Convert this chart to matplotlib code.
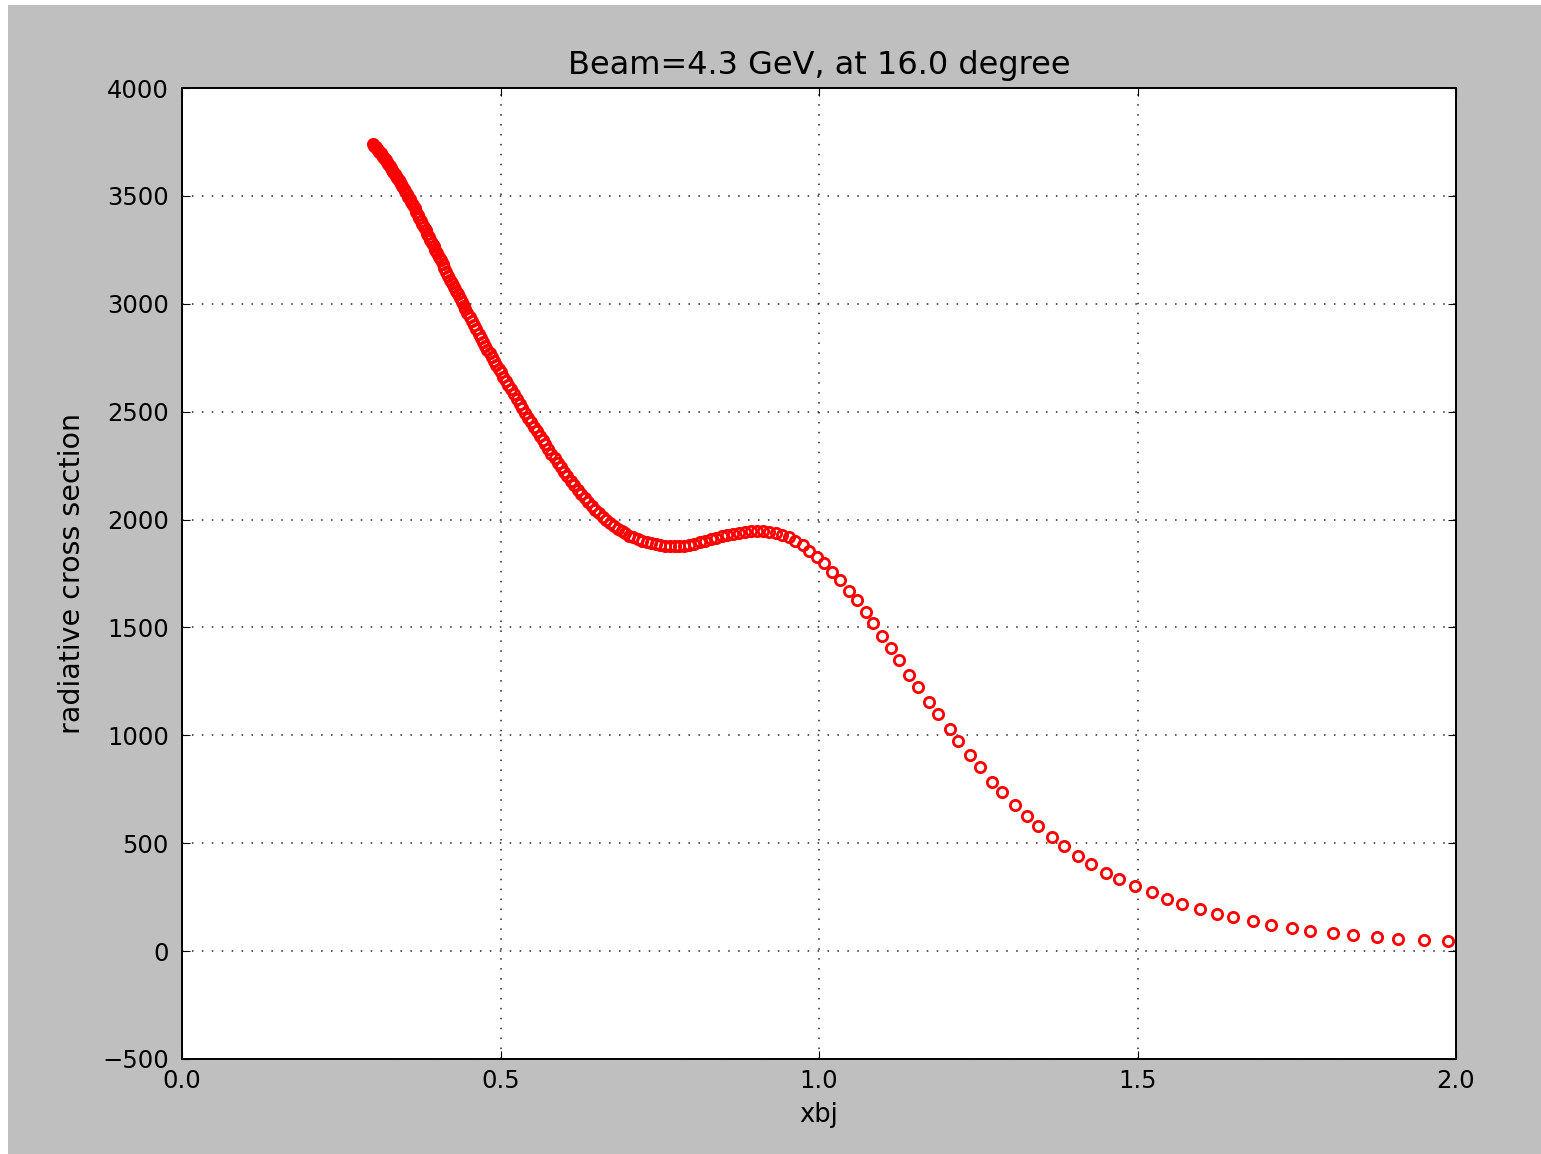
import matplotlib
matplotlib.use("Agg")
import matplotlib.pyplot as plt
from matplotlib.patches import Rectangle

BEAM = 4.3
ANGLE = 16.0

# radiative cross section vs Bjorken x (dense at low x, sparse at high x)
xbj = [
    0.300, 0.302, 0.304, 0.306, 0.308, 0.310, 0.312, 0.314, 0.316, 0.318,
    0.320, 0.322, 0.324, 0.326, 0.328, 0.330, 0.332, 0.334, 0.336, 0.338,
    0.340, 0.342, 0.344, 0.346, 0.348, 0.350,
    0.3525, 0.355, 0.3575, 0.360, 0.3625, 0.365, 0.3675, 0.370, 0.3725, 0.375,
    0.3775, 0.380, 0.3825, 0.385, 0.3875, 0.390, 0.3925, 0.395, 0.3975, 0.400,
    0.403, 0.406, 0.409, 0.412, 0.415, 0.418, 0.421, 0.424, 0.427, 0.430,
    0.433, 0.436, 0.439, 0.442, 0.445, 0.448,
    0.4515, 0.455, 0.4585, 0.462, 0.4655, 0.469, 0.4725, 0.476, 0.4795, 0.483,
    0.4865, 0.490, 0.4935, 0.497, 0.5005,
    0.5045, 0.5085, 0.5125, 0.5165, 0.521, 0.5255, 0.530, 0.5345, 0.539, 0.5435,
    0.548, 0.5525, 0.557, 0.5615, 0.566, 0.5705, 0.575, 0.580, 0.585, 0.590,
    0.595, 0.600,
    0.605, 0.6105, 0.616, 0.6215, 0.627, 0.6325, 0.638, 0.6435, 0.649, 0.6548,
    0.6605, 0.6663, 0.672, 0.678, 0.684, 0.690, 0.696, 0.702,
    0.7087, 0.7155, 0.7225, 0.7295, 0.7365, 0.7437, 0.751, 0.7585, 0.766, 0.7735,
    0.781, 0.7888, 0.7966, 0.8045,
    0.8128, 0.8213, 0.8298, 0.8385, 0.8473, 0.8562, 0.8652, 0.8744, 0.8837, 0.8931,
    0.9026, 0.9123, 0.9221, 0.932, 0.942, 0.9522, 0.9625,
    0.9744, 0.9848, 0.9964, 1.0083, 1.0209, 1.0330, 1.0466, 1.0592, 1.0733, 1.0853,
    1.0989, 1.1126, 1.1256, 1.1413, 1.1549, 1.1722, 1.1863, 1.2057, 1.2187, 1.2370,
    1.2527, 1.2711, 1.2878, 1.3077, 1.3261, 1.3438, 1.3653, 1.3841, 1.4061, 1.4270,
    1.4501, 1.4714, 1.4966, 1.5223, 1.5468, 1.5703, 1.5986, 1.6243, 1.6500, 1.6813,
    1.7091, 1.7421, 1.7713, 1.8064, 1.8383, 1.8760, 1.9094, 1.9502, 1.9870,
]
sigma = [
    3740, 3733, 3726, 3719, 3712, 3705, 3697, 3689, 3681, 3673,
    3665, 3656, 3648, 3639, 3631, 3622, 3613, 3603, 3594, 3584,
    3575, 3565, 3555, 3544, 3534, 3524,
    3511, 3497, 3484, 3470, 3456, 3442, 3427, 3413, 3399, 3384,
    3370, 3355, 3340, 3325, 3310, 3295, 3280, 3266, 3251, 3236,
    3218, 3201, 3183, 3165, 3147, 3130, 3112, 3095, 3077, 3060,
    3043, 3026, 3009, 2992, 2975, 2958,
    2939, 2919, 2900, 2881, 2862, 2843, 2825, 2806, 2788, 2770,
    2752, 2734, 2717, 2699, 2682,
    2662, 2642, 2622, 2603, 2580, 2559, 2537, 2515, 2493, 2472,
    2451, 2430, 2409, 2388, 2368, 2348, 2328, 2306, 2284, 2263,
    2242, 2221,
    2201, 2179, 2158, 2138, 2118, 2099, 2080, 2062, 2045, 2029,
    2013, 1998, 1984, 1971, 1958, 1946, 1936, 1926,
    1917, 1909, 1902, 1895, 1890, 1886, 1882, 1879, 1877, 1876,
    1877, 1879, 1883, 1888,
    1894, 1901, 1908, 1915, 1922, 1928, 1934, 1939, 1943, 1947,
    1948, 1948, 1944, 1938, 1930, 1917, 1902,
    1884, 1856, 1825, 1797, 1757, 1718, 1671, 1627, 1570, 1520,
    1459, 1404, 1347, 1281, 1224, 1154, 1098, 1029, 972, 907,
    851, 786, 737, 678, 628, 581, 531, 489, 442, 406,
    364, 332, 302, 272, 242, 219, 194, 172, 157, 138,
    123, 107, 95, 84, 75, 66, 58, 52, 45,
]

xticks = [0.0, 0.5, 1.0, 1.5, 2.0]
yticks = list(range(-500, 4001, 500))

plt.rcParams['font.family'] = 'DejaVu Sans'

W, H = 1541, 1154
fig = plt.figure(figsize=(W / 100, H / 100), dpi=100, facecolor='white')
# grey canvas behind the axes
fig.patches.append(Rectangle((8 / W, 0), 1 - 8 / W, 1 - 5 / H,
                             transform=fig.transFigure, facecolor='#bfbfbf',
                             edgecolor='none', zorder=-10))

ax = fig.add_axes([182 / W, 1 - 1059 / H, 1274 / W, 971 / H])
ax.set_facecolor('white')

ax.plot(xbj, sigma, linestyle='none', marker='o', markersize=7.4,
        markerfacecolor='none', markeredgecolor='red', markeredgewidth=2.0,
        clip_on=False)

ax.set_xlim(0.0, 2.0)
ax.set_ylim(-500, 4000)
ax.set_xticks(xticks)
ax.set_yticks(yticks)
ax.set_xticklabels(['%.1f' % t for t in xticks])

ax.grid(True, color='0.15', linestyle=(0, (1.0, 5.5)), linewidth=1.1)
ax.tick_params(direction='in', length=6, width=0.8, top=True, right=True,
               labelsize=17.5, colors='black')
ax.tick_params(axis='x', pad=7.5)
ax.tick_params(axis='y', pad=9.5)
for s in ax.spines.values():
    s.set_linewidth(1.4)

ax.set_title('Beam=%.1f GeV, at %.1f degree' % (BEAM, ANGLE), fontsize=23, pad=10)
ax.set_xlabel('xbj', fontsize=18.5)
ax.set_ylabel('radiative cross section', fontsize=20.5)
ax.xaxis.set_label_coords(0.5, -0.0443)
ax.yaxis.set_label_coords((86 - 182) / 1274, 0.5)

fig.savefig('out.png', dpi=100, facecolor=fig.get_facecolor())
